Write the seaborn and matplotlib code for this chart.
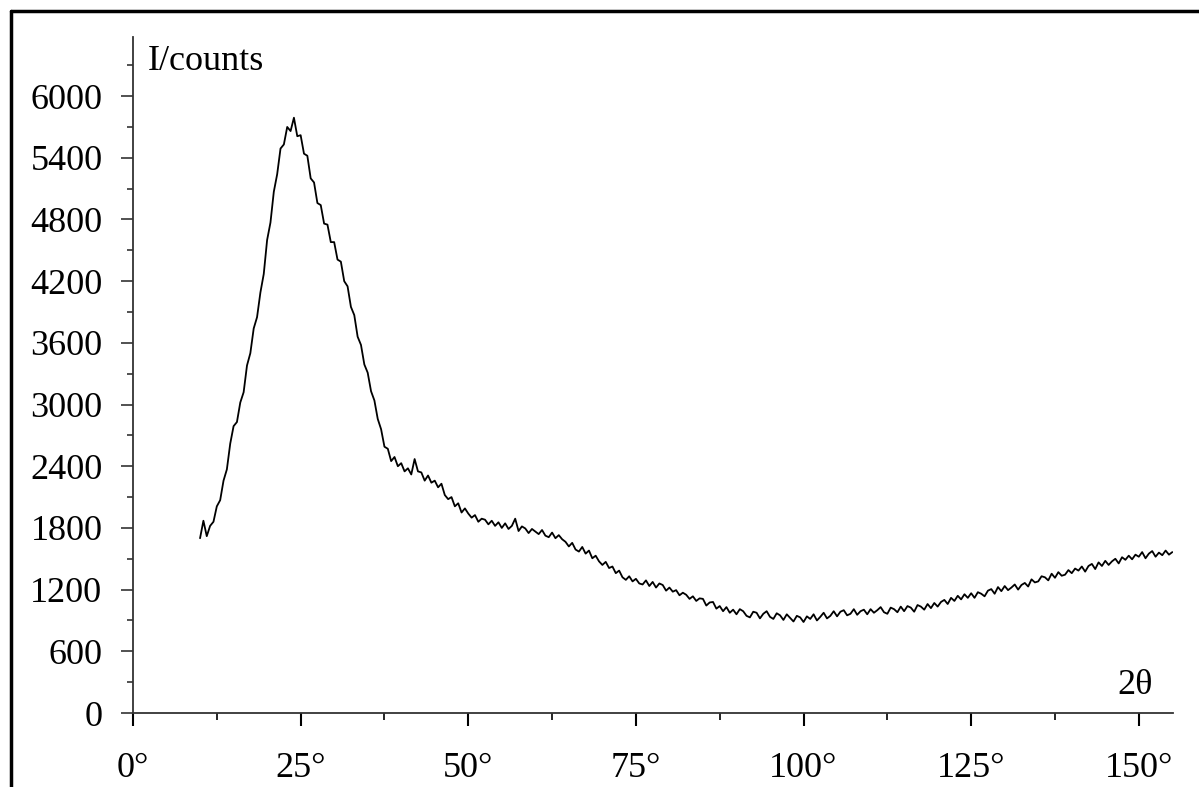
import numpy as np
import pandas as pd
import matplotlib
matplotlib.use("Agg")
import matplotlib.pyplot as plt
from matplotlib.lines import Line2D
from matplotlib.ticker import MultipleLocator, FuncFormatter
import seaborn as sns

# 2theta grid (degrees), 0.5 degree steps from 10 to 155
two_theta = [10 + 0.5 * i for i in range(291)]

# intensity in counts
counts = [
    1700, 1870, 1720, 1820, 1860, 2010, 2070, 2260, 2370, 2620,
    2790, 2830, 3020, 3120, 3380, 3500, 3740, 3850, 4090, 4270,
    4600, 4770, 5070, 5240, 5490, 5530, 5700, 5660, 5790, 5610,
    5620, 5440, 5420, 5200, 5160, 4960, 4940, 4760, 4750, 4580,
    4580, 4410, 4390, 4200, 4150, 3950, 3870, 3660, 3580, 3390,
    3310, 3130, 3040, 2860, 2760, 2590, 2570, 2450, 2490, 2400,
    2430, 2350, 2380, 2320, 2470, 2350, 2340, 2260, 2310, 2240,
    2260, 2195, 2230, 2120, 2080, 2100, 2010, 2040, 1950, 1990,
    1940, 1900, 1925, 1860, 1890, 1880, 1835, 1870, 1820, 1855,
    1800, 1845, 1790, 1820, 1890, 1770, 1815, 1795, 1750, 1790,
    1765, 1740, 1780, 1725, 1710, 1755, 1700, 1730, 1690, 1665,
    1620, 1655, 1590, 1570, 1615, 1550, 1580, 1505, 1530, 1475,
    1440, 1470, 1410, 1425, 1360, 1385, 1320, 1295, 1330, 1280,
    1305, 1260, 1250, 1290, 1235, 1275, 1220, 1260, 1245, 1190,
    1220, 1180, 1195, 1145, 1170, 1150, 1110, 1135, 1090, 1115,
    1110, 1045, 1075, 1080, 1015, 1040, 990, 1030, 975, 1005,
    960, 1010, 990, 945, 930, 985, 975, 920, 965, 990,
    935, 915, 970, 950, 905, 960, 925, 890, 945, 930,
    885, 940, 915, 960, 900, 935, 975, 920, 945, 990,
    940, 985, 1000, 950, 965, 1010, 955, 990, 1005, 960,
    1010, 975, 1000, 1030, 980, 965, 1025, 1010, 980, 1035,
    990, 1040, 1025, 985, 1050, 1035, 1005, 1060, 1020, 1070,
    1035, 1080, 1100, 1060, 1120, 1090, 1140, 1105, 1155, 1120,
    1165, 1120, 1175, 1160, 1135, 1190, 1205, 1160, 1225, 1185,
    1235, 1195, 1220, 1250, 1200, 1245, 1265, 1230, 1300, 1270,
    1280, 1330, 1320, 1290, 1355, 1315, 1370, 1335, 1345, 1390,
    1360, 1405, 1385, 1425, 1375, 1430, 1450, 1400, 1465, 1430,
    1480, 1440, 1475, 1500, 1455, 1515, 1490, 1530, 1495, 1540,
    1520, 1565, 1505, 1550, 1575, 1520, 1560, 1535, 1580, 1540,
    1565,
]

y_ticks = [0, 600, 1200, 1800, 2400, 3000, 3600, 4200, 4800, 5400, 6000]
x_ticks = [0, 25, 50, 75, 100, 125, 150]

df = pd.DataFrame({"two_theta": two_theta, "counts": counts})

sns.set_theme(style="white")
plt.rcParams["font.family"] = ["Liberation Serif", "DejaVu Serif"]
plt.rcParams["text.color"] = "black"

FS = 26

fig = plt.figure(figsize=(11.99, 7.87), dpi=100)
ax = fig.add_axes([133 / 1199, 74 / 787, (1173 - 133) / 1199, (713 - 37) / 787])

sns.lineplot(data=df, x="two_theta", y="counts", ax=ax, color="black", linewidth=1.3)

ax.set_xlim(0, 155.1)
ax.set_ylim(0, 6575)
ax.set_xlabel("")
ax.set_ylabel("")

for s in ["top", "right"]:
    ax.spines[s].set_visible(False)
for s in ["left", "bottom"]:
    ax.spines[s].set_color("#333333")
    ax.spines[s].set_linewidth(1.3)

ax.set_xticks(x_ticks)
ax.set_yticks(y_ticks)
ax.xaxis.set_minor_locator(MultipleLocator(12.5))
ax.yaxis.set_minor_locator(MultipleLocator(300))
ax.xaxis.set_major_formatter(FuncFormatter(lambda v, p: f"{int(v)}°"))
ax.tick_params(axis="x", which="major", direction="out", length=9, width=1.5,
               color="black", pad=19, labelsize=FS, labelcolor="black", bottom=True)
ax.tick_params(axis="x", which="minor", direction="out", length=5, width=1.2,
               color="black", bottom=True)
ax.tick_params(axis="y", which="major", direction="out", length=9, width=1.2,
               color="#333333", pad=13, labelsize=FS, labelcolor="black", left=True)
ax.tick_params(axis="y", which="minor", direction="out", length=4.5, width=1.2,
               color="#333333", left=True)

fig.text(148 / 1199, 1 - 62 / 787, "I/counts", fontsize=FS, ha="left", va="center",
         color="black")
fig.text(1135 / 1199, 1 - 686 / 787, "2θ", fontsize=FS, ha="center", va="center",
         color="black")

# figure frame (top and left edges visible; right/bottom run off the image)
fig.add_artist(Line2D([11 / 1199, 1.01], [1 - 11 / 787, 1 - 11 / 787],
                      transform=fig.transFigure, color="black", linewidth=2.5))
fig.add_artist(Line2D([11 / 1199, 11 / 1199], [-0.01, 1 - 11 / 787],
                      transform=fig.transFigure, color="black", linewidth=2.5))

fig.savefig("out.png", dpi=100, facecolor="white")
